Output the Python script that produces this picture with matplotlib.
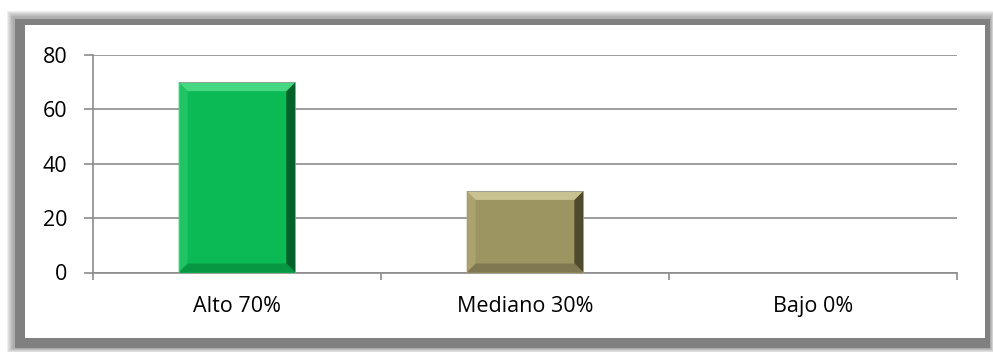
import numpy as np
import matplotlib.pyplot as plt
from matplotlib.patches import Rectangle, Polygon

categories = ['Alto 70%', 'Mediano 30%', 'Bajo 0%']
values = [70, 30, 0]
bar_colors = ['#0BB955', '#9C9561']
bevel_colors = [
    # top, left, right, bottom
    ['#45D880', '#20C463', '#05602A', '#079642'],
    ['#C8C190', '#AAA370', '#4F4A2C', '#7F7850'],
]
yticks = [0, 20, 40, 60, 80]

W, H = 993, 354
fig = plt.figure(figsize=(W / 100, H / 100), dpi=100)
fig.patch.set_facecolor('white')


def px_rect(x0, y0, x1, y1, **kw):
    # pixel box (top-left origin) -> figure fraction rectangle
    return Rectangle((x0 / W, 1 - y1 / H), (x1 - x0) / W, (y1 - y0) / H,
                     transform=fig.transFigure, **kw)


# soft shadow / gray frame around the chart area
for g in range(7, 0, -1):
    fig.patches.append(px_rect(14 - g, 18 - g, 990 + g * 0.5, 348 + g * 0.6,
                               facecolor='#7F7F7F', edgecolor='none', alpha=0.13, zorder=0))
fig.patches.append(px_rect(15, 19, 990, 348, facecolor='#808080', edgecolor='none', zorder=1))
fig.patches.append(px_rect(25, 25, 985, 338, facecolor='white', edgecolor='none', zorder=2))

ax = fig.add_axes([93 / W, 1 - 272.5 / H, (957 - 93) / W, (272.5 - 55) / H])
ax.set_facecolor('none')
ax.set_zorder(3)

x = np.arange(len(categories))
bw = 0.405
bars = ax.bar(x[:2], values[:2], width=bw, color=bar_colors, edgecolor='none', zorder=3)

ax.set_xlim(-0.5, len(categories) - 0.5)
ax.set_ylim(0, 80)
ax.set_yticks(yticks)
ax.set_yticklabels([str(v) for v in yticks])
ax.yaxis.grid(True, color='#8C8C8C', linewidth=1.2)
ax.set_axisbelow(True)

# bevel edges, sized in pixels and converted to data units
bev = 9
dx = bev / (957 - 93) * 3
dy = bev / (272.5 - 55) * 80
for bar, cols in zip(bars, bevel_colors):
    x0, w, h = bar.get_x(), bar.get_width(), bar.get_height()
    x1 = x0 + w
    top = [(x0, h), (x1, h), (x1 - dx, h - dy), (x0 + dx, h - dy)]
    left = [(x0, 0), (x0, h), (x0 + dx, h - dy), (x0 + dx, dy)]
    right = [(x1, 0), (x1, h), (x1 - dx, h - dy), (x1 - dx, dy)]
    bottom = [(x0, 0), (x1, 0), (x1 - dx, dy), (x0 + dx, dy)]
    for pts, c in zip([left, right, top, bottom], [cols[1], cols[2], cols[0], cols[3]]):
        ax.add_patch(Polygon(pts, closed=True, facecolor=c, edgecolor='none', zorder=4))
    ax.add_patch(Rectangle((x0, 0), w, h, facecolor='none', edgecolor='#9A9A9A',
                           linewidth=0.6, zorder=5))

# category boundaries as x ticks, labels at centres
ax.set_xticks(np.arange(len(categories) + 1) - 0.5)
ax.set_xticklabels([])
ax.set_xticks(x, minor=True)
ax.set_xticklabels(categories, minor=True)
ax.tick_params(axis='x', which='major', length=5, color='#8C8C8C', width=1.2)
ax.tick_params(axis='x', which='minor', length=0, pad=17, labelsize=15.5)
ax.tick_params(axis='y', length=6.5, color='#8C8C8C', width=1.2, labelsize=15.5, pad=12)

for s in ['top', 'right']:
    ax.spines[s].set_visible(False)
ax.spines['left'].set_color('#8C8C8C')
ax.spines['bottom'].set_color('#8C8C8C')
ax.spines['left'].set_linewidth(1.2)
ax.spines['bottom'].set_linewidth(1.2)

for lab in ax.get_xticklabels(minor=True) + ax.get_yticklabels():
    lab.set_fontfamily('Open Sans')
    lab.set_color('black')

fig.savefig('out.png', dpi=100)
